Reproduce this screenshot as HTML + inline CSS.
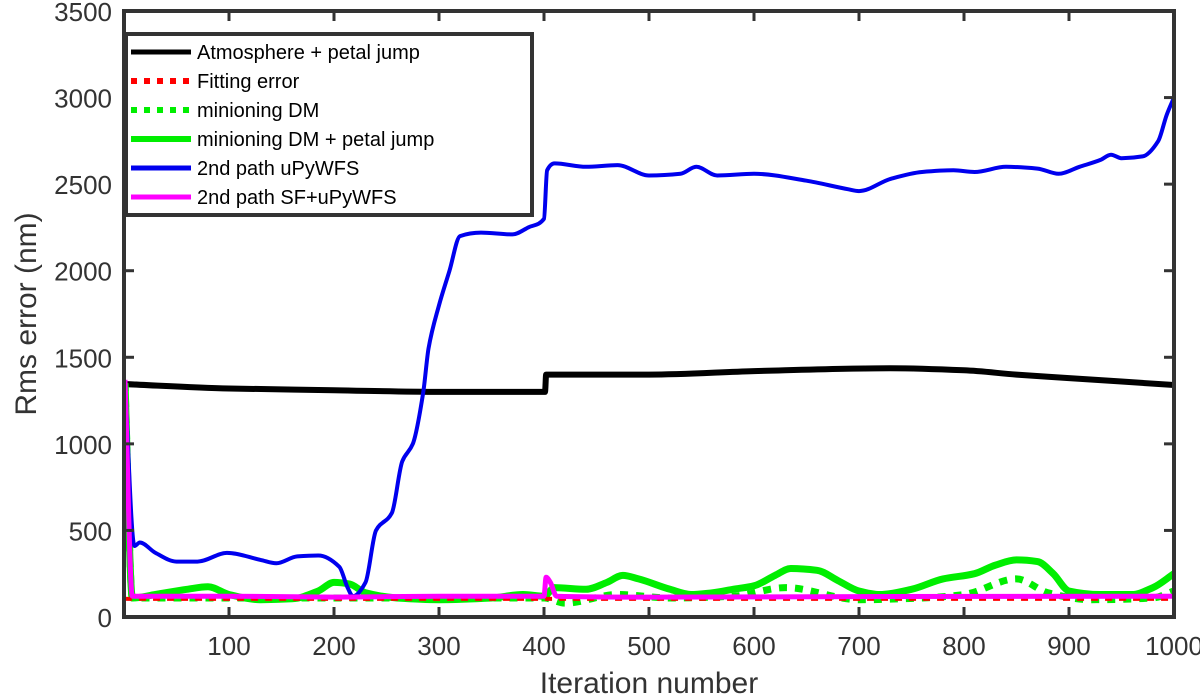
<!DOCTYPE html>
<html><head><meta charset="utf-8"><style>
html,body{margin:0;padding:0;background:#fff;}
svg{display:block;font-family:"Liberation Sans",Arial,sans-serif;}
</style></head><body>
<svg id="chart" width="1200" height="697"></svg>
<script>
const xTicks=[100,200,300,400,500,600,700,800,900,1000];
const yTicks=[0,500,1000,1500,2000,2500,3000,3500];
const blueX=[1,10,15,30,50,70,98,130,145,165,185,205,213,218,230,240,255,265,275,285,290,300,310,320,340,370,385,400,403,410,440,470,500,530,545,565,600,650,690,700,730,760,790,810,840,870,890,910,930,940,950,970,985,993,1000];
const blueY=[1350,410,430,370,320,320,370,330,310,350,355,290,170,120,200,500,600,900,1000,1300,1550,1800,2000,2200,2220,2210,2250,2300,2580,2620,2600,2610,2550,2560,2600,2550,2560,2520,2470,2460,2530,2570,2580,2570,2600,2590,2560,2600,2640,2670,2650,2660,2750,2900,3000];
const blackX=[1,100,200,300,400,401,402,500,600,730,800,850,900,1000];
const blackY=[1345,1320,1310,1300,1300,1300,1400,1400,1420,1437,1425,1400,1380,1340];
const redX=[1,1000];
const redY=[105,105];
const greenX=[1,8,30,60,80,100,130,160,185,200,215,230,260,300,350,380,400,410,440,460,475,490,520,540,560,580,600,620,635,660,680,700,720,750,780,810,830,850,870,885,900,930,960,980,1000];
const greenY=[1350,110,130,160,175,130,100,105,150,200,190,140,110,100,110,130,120,170,160,200,240,220,160,130,140,160,180,240,280,270,210,150,130,160,220,250,300,330,320,250,150,130,130,170,250];
const gdotX=[1,8,100,200,400,420,470,520,580,630,700,760,800,850,880,920,980,1000];
const gdotY=[1350,110,110,110,110,80,130,110,120,170,100,110,130,220,140,100,110,150];
const magX=[1,8,100,200,300,400,402,406,412,500,700,1000];
const magY=[1370,120,120,115,120,120,230,200,120,115,118,120];

const NS='http://www.w3.org/2000/svg';
const svg=document.getElementById('chart');
const L=124,R=1174,T=11,B=617;
const xs=v=>L+(v-0)*(R-L)/1000;
const ys=v=>B-v*(B-T)/3500;
function el(tag,attrs,parent){const e=document.createElementNS(NS,tag);for(const k in attrs)e.setAttribute(k,attrs[k]);(parent||svg).appendChild(e);return e;}
function pathD(X,Y){
  const px=X.map(xs),py=Y.map(ys),n=px.length;
  if(n<3){return 'M'+px[0]+','+py[0]+' L'+px[1]+','+py[1];}
  const dx=[],s=[];
  for(let i=0;i<n-1;i++){dx[i]=px[i+1]-px[i];s[i]=(py[i+1]-py[i])/dx[i];}
  const m=[s[0]];
  for(let i=1;i<n-1;i++){m[i]=(s[i-1]*s[i]<=0)?0:3*(dx[i-1]+dx[i])/((2*dx[i]+dx[i-1])/s[i-1]+(dx[i]+2*dx[i-1])/s[i]);}
  m[n-1]=s[n-2];
  let d='M'+px[0].toFixed(1)+','+py[0].toFixed(1);
  for(let i=0;i<n-1;i++){
    const h=dx[i]/3;
    d+=` C${(px[i]+h).toFixed(1)},${(py[i]+m[i]*h).toFixed(1)} ${(px[i+1]-h).toFixed(1)},${(py[i+1]-m[i+1]*h).toFixed(1)} ${px[i+1].toFixed(1)},${py[i+1].toFixed(1)}`;
  }
  return d;
}
const clip=el('clipPath',{id:'pc'});el('rect',{x:L,y:T,width:R-L,height:B-T},clip);
const g=el('g',{'clip-path':'url(#pc)'});
function series(X,Y,color,w,dash,name){
  const p=el('path',{d:pathD(X,Y),fill:'none',stroke:color,'stroke-width':w,'stroke-dasharray':dash||'none','stroke-linejoin':'round'},g);
  
  
}
series(blackX,blackY,'#000',6,null,'atmosphere-petal-jump-line');
series(greenX,greenY,'#00ee00',7,null,'minioning-dm-petal-jump-line');
series(gdotX,gdotY,'#00ee00',7,'8,8','minioning-dm-line');
series(redX,redY,'#ff0000',4,'7,7','fitting-error-line');
series(blueX,blueY,'#0000ee',4,null,'upywfs-line');
series(magX,magY,'#ff00ff',5,null,'sf-upywfs-line');

const box=el('rect',{x:L,y:T,width:R-L,height:B-T,fill:'none',stroke:'#333','stroke-width':4});

xTicks.forEach(v=>{
  el('line',{x1:xs(v),x2:xs(v),y1:B,y2:B-10,stroke:'#333','stroke-width':3});
  el('line',{x1:xs(v),x2:xs(v),y1:T,y2:T+10,stroke:'#333','stroke-width':3});
  const t=el('text',{x:xs(v),y:B+38,'text-anchor':'middle','font-size':26,fill:'#333'});t.textContent=v;
  
});
yTicks.forEach(v=>{
  el('line',{x1:L,x2:L+10,y1:ys(v),y2:ys(v),stroke:'#333','stroke-width':3});
  el('line',{x1:R,x2:R-10,y1:ys(v),y2:ys(v),stroke:'#333','stroke-width':3});
  const t=el('text',{x:L-12,y:ys(v)+10,'text-anchor':'end','font-size':26,fill:'#333'});t.textContent=v;
  
});
const xl=el('text',{x:649,y:693,'text-anchor':'middle','font-size':30,fill:'#333'});xl.textContent='Iteration number';

const yl=el('text',{x:0,y:0,'text-anchor':'middle','font-size':30,fill:'#333',transform:'translate(36,314) rotate(-90)'});yl.textContent='Rms error (nm)';


const lg=el('g',{});

el('rect',{x:126,y:34,width:406,height:181,fill:'#fff',stroke:'#333','stroke-width':4},lg);
const legNames=['Atmosphere + petal jump','Fitting error','minioning DM','minioning DM + petal jump','2nd path uPyWFS','2nd path SF+uPyWFS'];
const legColors=['#000','#ff0000','#00ee00','#00ee00','#0000ee','#ff00ff'];
const legDash=['none','6,7','6,7','none','none','none'];
const legW=[5,6,6,6,5,5];
legNames.forEach((n,i)=>{
  const y=52+i*29;
  const e=el('g',{},lg);
  
  
  el('line',{x1:131,x2:191,y1:y,y2:y,stroke:legColors[i],'stroke-width':legW[i],'stroke-dasharray':legDash[i]},e);
  const t=el('text',{x:197,y:y+7,'font-size':20,fill:'#000'},e);t.textContent=n;
});
</script>
</body></html>
